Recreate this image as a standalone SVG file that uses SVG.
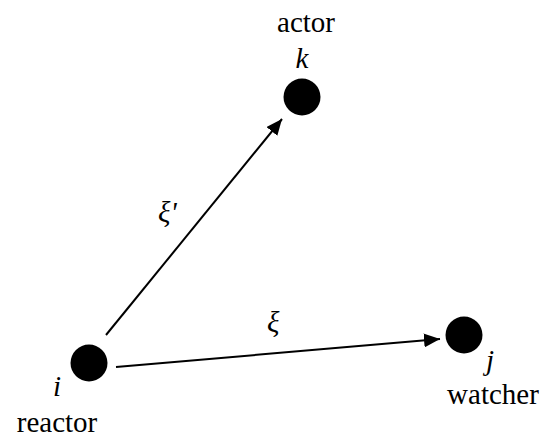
<svg xmlns="http://www.w3.org/2000/svg" width="550" height="446" viewBox="0 0 550 446">
<style>
.t{font-family:'Liberation Serif','Times New Roman',Times,'DejaVu Serif',serif;font-size:29px;fill:#000}
.i{font-style:italic}
.n{fill:#000}
.e{stroke:#000;stroke-width:2;fill:none}
</style>
<defs>
<marker id="ah" viewBox="0 0 10 10" refX="10" refY="5" markerWidth="8" markerHeight="7" orient="auto" markerUnits="strokeWidth" preserveAspectRatio="none">
<path d="M0,0 L10,5 L0,10 z" fill="#000"/>
</marker>
</defs>
<rect width="550" height="446" fill="#fff"/>
<g id="connectors">
<line class="e" x1="106" y1="335" x2="282" y2="119" marker-end="url(#ah)"/>
<line class="e" x1="116" y1="367" x2="440" y2="339" marker-end="url(#ah)"/>
<text class="t i" font-family="Liberation Serif, serif" x="158" y="222">ξ'</text>
<text class="t i" font-family="Liberation Serif, serif" x="267" y="332">ξ</text>
</g>
<g id="node-k">
<circle class="n" cx="302" cy="97" r="18.5"/>
<text class="t" font-family="Liberation Serif, serif" x="306" y="32" text-anchor="middle">actor</text>
<text class="t i" font-family="Liberation Serif, serif" x="302" y="68" text-anchor="middle">k</text>
</g>
<g id="node-i">
<circle class="n" cx="89" cy="363" r="18.5"/>
<text class="t i" font-family="Liberation Serif, serif" x="57" y="396" text-anchor="middle">i</text>
<text class="t" font-family="Liberation Serif, serif" x="57" y="432" text-anchor="middle">reactor</text>
</g>
<g id="node-j">
<circle class="n" cx="464" cy="335" r="18.5"/>
<text class="t i" font-family="Liberation Serif, serif" x="490" y="370" text-anchor="middle">j</text>
<text class="t" font-family="Liberation Serif, serif" x="493" y="404" text-anchor="middle">watcher</text>
</g>
</svg>
